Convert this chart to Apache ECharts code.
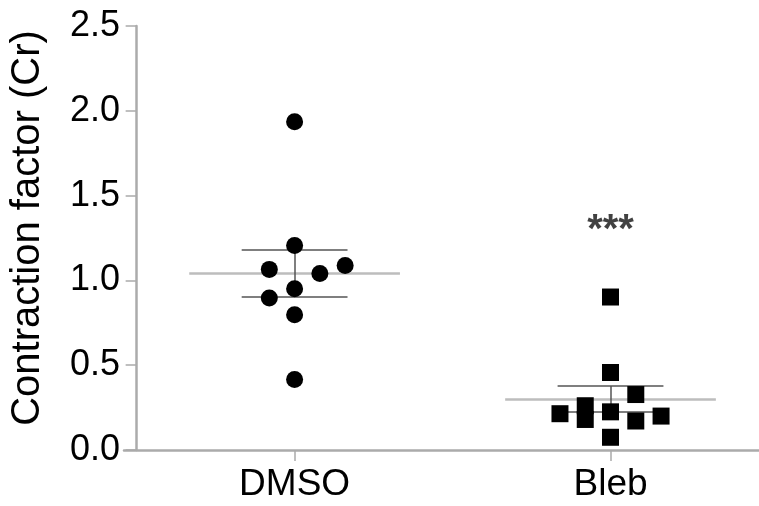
<!DOCTYPE html>
<html>
<head>
    <meta charset="UTF-8">
    <title>Contraction factor</title>
    <script src="https://cdn.jsdelivr.net/npm/echarts@6/dist/echarts.min.js"></script>
    <style>
        html, body { margin: 0; padding: 0; background: #fff; }
        #chart { width: 759px; height: 506px; }
    </style>
</head>
<body>
<div id="chart"></div>
<script type="text/javascript">
    // groups and where they sit on the x scale
    var groups = ['DMSO', 'Bleb'];
    var groupPos = [1, 3];

    // individual points (x includes the scatter offset)
    var dmsoX = [1.0, 1.0, 0.84, 1.16, 1.32, 1.0, 0.84, 1.0, 1.0];
    var dmsoY = [1.935, 1.206, 1.065, 1.041, 1.088, 0.951, 0.896, 0.798, 0.416];
    var blebX = [3.0, 3.0, 3.16, 2.68, 2.84, 2.84, 3.0, 3.16, 3.32, 3.0];
    var blebY = [0.902, 0.457, 0.327, 0.214, 0.261, 0.180, 0.225, 0.171, 0.200, 0.075];

    // mean and error bar ends per group
    var means = [1.045, 0.30];
    var errUpper = [1.178, 0.378];
    var errLower = [0.904, 0.225];

    var yTicks = [0, 0.5, 1.0, 1.5, 2.0, 2.5];
    var starText = '***';
    var starY = 1.29;

    var meanHalf = 0.667, capHalf = 0.335;
    var font = "'Liberation Sans', Arial, sans-serif";

    function pairs(xs, ys) {
        return xs.map(function (x, i) { return [x, ys[i]]; });
    }

    var meanLines = [], errLines = [];
    groupPos.forEach(function (p, i) {
        meanLines.push({coords: [[p - meanHalf, means[i]], [p + meanHalf, means[i]]]});
        errLines.push({coords: [[p, errLower[i]], [p, errUpper[i]]]});
        errLines.push({coords: [[p - capHalf, errUpper[i]], [p + capHalf, errUpper[i]]]});
        errLines.push({coords: [[p - capHalf, errLower[i]], [p + capHalf, errLower[i]]]});
    });

    var chart = echarts.init(document.getElementById('chart'));
    chart.setOption({
        animation: false,
        grid: {left: 124, right: 0, top: 26, bottom: 56, outerBoundsMode: 'none'},
        xAxis: {
            type: 'value',
            min: -0.08,
            max: 3.94,
            splitLine: {show: false},
            axisLine: {show: true, lineStyle: {color: '#ababab', width: 2.5}},
            axisTick: {show: true, customValues: groupPos, length: 11, lineStyle: {color: '#ababab', width: 1.5}},
            axisLabel: {
                customValues: groupPos,
                margin: 16,
                color: '#000',
                fontSize: 37,
                fontFamily: font,
                formatter: function (v) {
                    var i = groupPos.indexOf(v);
                    return i >= 0 ? groups[i] : '';
                }
            }
        },
        yAxis: {
            type: 'value',
            min: yTicks[0],
            max: yTicks[yTicks.length - 1],
            interval: 0.5,
            splitLine: {show: false},
            name: 'Contraction factor (Cr)',
            nameLocation: 'middle',
            nameGap: 76,
            nameTextStyle: {color: '#000', fontSize: 40, fontFamily: font, padding: [0, 0, 0, 20]},
            axisLine: {show: true, lineStyle: {color: '#ababab', width: 2.5}},
            axisTick: {show: true, length: 11, lineStyle: {color: '#ababab', width: 1.5}},
            axisLabel: {
                margin: 4,
                color: '#000',
                fontSize: 36,
                fontFamily: font,
                formatter: function (v) { return v.toFixed(1); }
            }
        },
        series: [
            {
                type: 'lines',
                coordinateSystem: 'cartesian2d',
                z: 1,
                lineStyle: {color: '#bdbdbd', width: 2.5, opacity: 1},
                data: meanLines
            },
            {
                type: 'lines',
                coordinateSystem: 'cartesian2d',
                z: 2,
                lineStyle: {color: '#555', width: 1.5, opacity: 1},
                data: errLines
            },
            {
                name: 'DMSO',
                type: 'scatter',
                z: 3,
                symbol: 'circle',
                symbolSize: 17,
                itemStyle: {color: '#000', opacity: 1},
                data: pairs(dmsoX, dmsoY)
            },
            {
                name: 'Bleb',
                type: 'scatter',
                z: 3,
                symbol: 'rect',
                symbolSize: 17,
                itemStyle: {color: '#000', opacity: 1},
                data: pairs(blebX, blebY)
            },
            {
                type: 'scatter',
                symbolSize: 0,
                silent: true,
                label: {
                    show: true,
                    position: 'inside',
                    formatter: starText,
                    color: '#111',
                    fontSize: 40,
                    fontWeight: 'bold',
                    fontFamily: font
                },
                data: [[groupPos[1], starY]]
            }
        ]
    });
</script>
</body>
</html>
